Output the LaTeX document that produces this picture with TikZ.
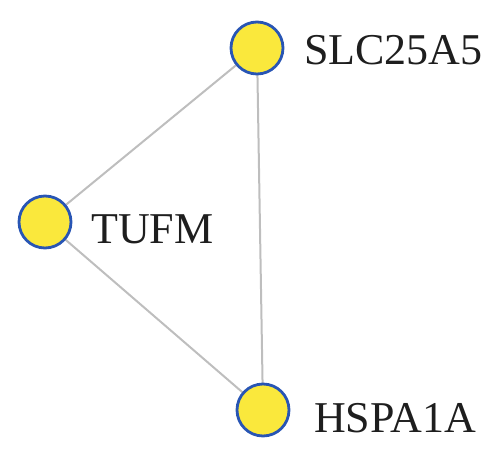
\documentclass[tikz,border=0pt]{standalone}
\usepackage{fontspec}
\setmainfont{Liberation Serif}
\begin{document}
\begin{tikzpicture}[x=1pt,y=-1pt,
  gene/.style={circle,draw={rgb,255:red,40;green,85;blue,180},line width=2.8pt,fill={rgb,255:red,250;green,232;blue,60},minimum size=52pt,inner sep=0pt},
  lbl/.style={anchor=base west,inner sep=0pt,font=\fontsize{44}{48}\selectfont,text={rgb,255:red,30;green,30;blue,30}},
  edge/.style={draw={rgb,255:red,190;green,190;blue,190},line width=2pt}]
\useasboundingbox (0,0) rectangle (500,457);
\coordinate (cS) at (257,48);
\coordinate (cT) at (45,222);
\coordinate (cH) at (263,410);
\draw[edge] (cS) -- (cT);
\draw[edge] (cT) -- (cH);
\draw[edge] (cS) -- (cH);
\node[gene] (S) at (cS) {};
\node[gene] (T) at (cT) {};
\node[gene] (H) at (cH) {};
\node[lbl] (lS) at (304,65) {SLC25A5};
\node[lbl] (lT) at (91,243) {TUFM};
\node[lbl] (lH) at (314,432) {HSPA1A};
\end{tikzpicture}
\end{document}
